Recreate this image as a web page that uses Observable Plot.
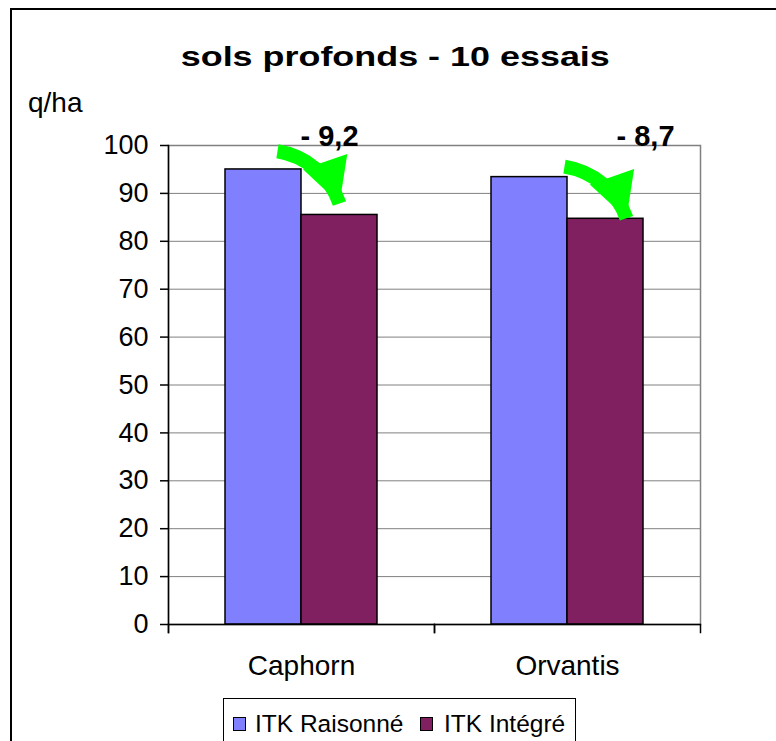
<!DOCTYPE html>
<html>
<head>
<meta charset="utf-8">
<script src="https://cdn.jsdelivr.net/npm/d3@7"></script>
<script src="https://cdn.jsdelivr.net/npm/@observablehq/plot@0.6"></script>
<style>
  html, body { margin: 0; padding: 0; background: #fff; }
  body { width: 776px; height: 741px; overflow: hidden; position: relative; font-family: "Liberation Sans", Arial, sans-serif; color: #000; }
  #border { position: absolute; left: 10px; top: 8px; width: 820px; height: 820px; border: 2px solid #000; box-sizing: border-box; }
  #chart { position: absolute; left: 0; top: 0; }
  #title { position: absolute; left: 0; width: 790px; top: 42px; text-align: center; font-weight: bold; font-size: 28.5px; line-height: 1; white-space: nowrap; }
  #title span { display: inline-block; transform: scaleX(1.26); transform-origin: center; }
  #unit { position: absolute; left: 28px; top: 89px; font-size: 28px; line-height: 1; }
  #legend { position: absolute; left: 223px; top: 698px; width: 353px; height: 80px; border: 1px solid #000; box-sizing: border-box; background: #fff; }
  .sw { position: absolute; width: 13px; height: 14px; border: 1.5px solid #000; box-sizing: border-box; top: 18px; }
  .lt { position: absolute; top: 13px; font-size: 24.5px; line-height: 1; white-space: nowrap; }
</style>
</head>
<body>
<div id="border"></div>
<div id="chart"></div>
<div id="title"><span>sols profonds - 10 essais</span></div>
<div id="unit">q/ha</div>
<div id="legend"></div>
<script>
// ---- data ----
const categories = ["Caphorn", "Orvantis"];
const seriesNames = ["ITK Raisonné", "ITK Intégré"];
const raisonne = [95.0, 93.4];
const integre = [85.5, 84.7];
const deltaLabels = ["- 9,2", "- 8,7"];
const arrowFrom = [99.0, 95.8];
const arrowTo = [87.9, 84.8];
const yTicks = [0, 10, 20, 30, 40, 50, 60, 70, 80, 90, 100];
const seriesColors = ["#8080FF", "#802060"];

// ---- tables ----
const bars = categories.flatMap((c, i) => [
  {cat: c, series: seriesNames[0], value: raisonne[i]},
  {cat: c, series: seriesNames[1], value: integre[i]}
]);
const arrows = categories.map((c, i) => ({cat: c, xa: seriesNames[0], xb: seriesNames[1], from: arrowFrom[i], to: arrowTo[i], label: deltaLabels[i], top: yTicks[yTicks.length - 1]}));

const labelDx = [-10, 40];
const arrowDx = [0, 21];
const GREEN = "#00FF00";
const HEAD = 50; // wing length of the filled head, px

// render transform: turn the arrow's open head into a large filled triangle
function fillHeads(index, scales, values, dimensions, context, next) {
  const g = next(index, scales, values, dimensions, context);
  g.querySelectorAll("path").forEach((p) => {
    const d = p.getAttribute("d") || "";
    const k = d.lastIndexOf("M");
    if (k <= 0) return;
    const n = d.slice(k + 1).split(/[ML,\s]+/).filter((s) => s !== "").map(Number);
    if (n.length < 6) return;
    const tx = n[2], ty = n[3];
    const wing = (wx, wy) => {
      const vx = wx - tx, vy = wy - ty, L = Math.hypot(vx, vy) || 1;
      return [tx + vx / L * HEAD, ty + vy / L * HEAD];
    };
    const a = wing(n[0], n[1]), b = wing(n[4], n[5]);
    const poly = document.createElementNS("http://www.w3.org/2000/svg", "polygon");
    poly.setAttribute("points", `${a[0]},${a[1]} ${tx},${ty} ${b[0]},${b[1]}`);
    poly.setAttribute("fill", GREEN);
    poly.setAttribute("stroke", "none");
    p.parentNode.insertBefore(poly, p.nextSibling);
    p.setAttribute("d", d.slice(0, k));
    p.setAttribute("stroke-linecap", "butt");
  });
  return g;
}

const plot = Plot.plot({
  width: 776,
  height: 690,
  marginLeft: 168,
  marginRight: 76,
  marginTop: 145,
  marginBottom: 66,
  style: {fontFamily: "'Liberation Sans', Arial, sans-serif", color: "#000", background: "transparent", overflow: "visible"},
  fx: {domain: categories, padding: 0, label: null, axis: null},
  x: {domain: seriesNames, paddingInner: 0, paddingOuter: 0.75, axis: null},
  y: {domain: [0, 100], label: null},
  color: {domain: seriesNames, range: seriesColors},
  marks: [
    Plot.gridY(yTicks, {stroke: "#808080", strokeOpacity: 1, strokeWidth: 1}),
    Plot.frame({facet: "super", stroke: "#808080", strokeWidth: 1.5}),
    Plot.barY(bars, {fx: "cat", x: "series", y: "value", fill: "series", stroke: "#000", strokeWidth: 1.5}),
    Plot.ruleY([0], {stroke: "#000", strokeWidth: 1.5}),
    Plot.frame({facet: "super", anchor: "left", stroke: "#000", strokeWidth: 1.5, insetBottom: -8}),
    Plot.frame({anchor: "left", stroke: "#000", strokeWidth: 1.5, insetTop: 479, insetBottom: -8}),
    Plot.frame({anchor: "right", stroke: "#000", strokeWidth: 1.5, insetTop: 479, insetBottom: -8}),
    Plot.axisY(yTicks, {tickSize: 8, tickPadding: 12, fontSize: 27, label: null, stroke: "#000", strokeWidth: 1.5}),
    Plot.axisFx({anchor: "bottom", tickSize: 0, tickPadding: 31, fontSize: 28, label: null}),
    ...categories.map((c, i) => Plot.arrow(arrows.filter(d => d.cat === c), {
      fx: "cat", x1: "xa", x2: "xb", y1: "from", y2: "to",
      dx: arrowDx[i], bend: 36, stroke: GREEN, strokeWidth: 14,
      headLength: 22, headAngle: 56, insetStart: 14,
      render: fillHeads
    })),
    ...categories.map((c, i) => Plot.text(arrows.filter(d => d.cat === c), {
      fx: "cat", x: "xb", y: "top", text: "label", dx: labelDx[i],
      fontSize: 29, fontWeight: "bold", lineAnchor: "bottom", fill: "#000"
    }))
  ]
});
document.getElementById("chart").appendChild(plot);

// legend
const legend = document.getElementById("legend");
const swX = [9, 196];
const txX = [31, 220];
seriesNames.forEach((s, i) => {
  const sw = document.createElement("div");
  sw.className = "sw";
  sw.style.left = swX[i] + "px";
  sw.style.background = seriesColors[i];
  legend.appendChild(sw);
  const t = document.createElement("div");
  t.className = "lt";
  t.style.left = txX[i] + "px";
  t.textContent = s;
  legend.appendChild(t);
});
</script>
</body>
</html>
